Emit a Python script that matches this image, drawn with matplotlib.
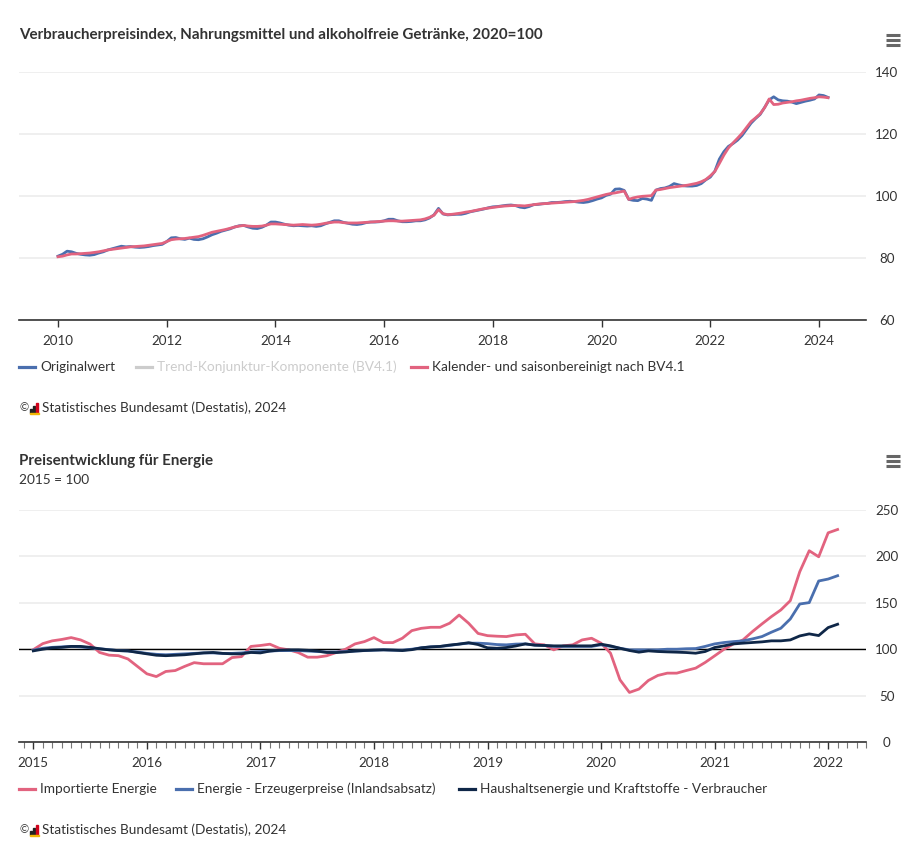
import matplotlib
matplotlib.use("Agg")
import matplotlib.pyplot as plt
from matplotlib import font_manager
from matplotlib.patches import Rectangle
from matplotlib.lines import Line2D

avail = {f.name for f in font_manager.fontManager.ttflist}
FONT = next((f for f in ["Lato", "Roboto", "DejaVu Sans"] if f in avail), "DejaVu Sans")
plt.rcParams['font.family'] = [FONT, 'DejaVu Sans']

# ---------------- Data: chart 1 (monthly, Jan 2010 - Mar 2024) ----------------
vpi_start_year = 2010
vpi_original = [
    80.6, 81.2, 82.2, 82.0, 81.5, 81.2, 81.0, 80.9, 81.1, 81.6, 82.0, 82.6,
    83.0, 83.4, 83.8, 83.6, 83.7, 83.5, 83.4, 83.5, 83.7, 84.0, 84.2, 84.4,
    85.3, 86.5, 86.6, 86.2, 86.0, 86.4, 86.0, 85.9, 86.2, 86.8, 87.5, 88.0,
    88.6, 89.0, 89.4, 90.0, 90.4, 90.5, 90.0, 89.6, 89.5, 89.9, 90.6, 91.6,
    91.6, 91.3, 90.9, 90.6, 90.4, 90.5, 90.4, 90.3, 90.4, 90.2, 90.4, 91.0,
    91.5, 92.0, 92.0, 91.5, 91.2, 90.9, 90.8, 91.0, 91.4, 91.6, 91.6, 91.7,
    92.0, 92.5, 92.5, 92.0, 91.7, 91.7, 91.8, 92.0, 92.0, 92.3, 92.9, 93.9,
    96.0, 94.2, 93.9, 94.0, 94.1, 94.1, 94.4, 94.9, 95.2, 95.5, 95.8, 96.2,
    96.5, 96.6, 96.8, 97.0, 97.1, 96.9, 96.4, 96.2, 96.6, 97.2, 97.3, 97.5,
    97.6, 97.9, 97.9, 98.0, 98.2, 98.3, 98.2, 98.0, 97.9, 98.1, 98.5, 99.0,
    99.4, 100.2, 100.6, 102.2, 102.3, 101.8, 98.9, 98.6, 98.5, 99.2, 99.0, 98.6,
    101.9, 102.4, 102.6, 103.1, 104.0, 103.6, 103.3, 103.2, 103.2, 103.4, 104.0, 105.2,
    106.1, 108.0, 111.9, 114.3, 116.0, 116.9, 118.0, 119.5, 121.5, 123.5, 125.0, 126.3,
    128.6, 131.0, 132.0, 131.0, 130.7, 130.6, 130.3, 129.8, 130.2, 130.6, 130.9, 131.3,
    132.6, 132.4, 131.8,
]
vpi_bereinigt = [
    80.4, 80.6, 81.0, 81.3, 81.3, 81.4, 81.5, 81.6, 81.8, 82.0, 82.3, 82.6,
    82.8, 83.0, 83.2, 83.4, 83.6, 83.7, 83.8, 83.9, 84.1, 84.3, 84.5, 84.7,
    85.3, 85.9, 86.1, 86.2, 86.3, 86.5, 86.7, 86.9, 87.3, 87.8, 88.3, 88.6,
    88.9, 89.2, 89.6, 90.0, 90.3, 90.5, 90.3, 90.2, 90.2, 90.3, 90.6, 91.0,
    91.0, 90.9, 90.8, 90.7, 90.6, 90.7, 90.8, 90.7, 90.6, 90.7, 90.9, 91.2,
    91.4, 91.6, 91.6, 91.4, 91.3, 91.3, 91.3, 91.4, 91.5, 91.6, 91.7, 91.8,
    91.9, 92.0, 92.0, 91.9, 91.9, 92.0, 92.1, 92.2, 92.3, 92.6, 93.1, 93.8,
    95.6, 94.3, 94.0, 94.1, 94.3, 94.5, 94.8, 95.0, 95.3, 95.6, 95.9, 96.1,
    96.3, 96.5, 96.7, 96.8, 96.9, 96.9, 96.9, 96.8, 97.0, 97.2, 97.4, 97.5,
    97.6, 97.7, 97.8, 97.9, 98.0, 98.1, 98.2, 98.4, 98.6, 98.9, 99.3, 99.7,
    100.1, 100.5, 100.8, 101.0, 101.3, 101.6, 98.9, 99.4, 99.7, 99.9, 100.0, 100.1,
    101.9, 102.1, 102.4, 102.7, 102.9, 103.1, 103.3, 103.5, 103.8, 104.1, 104.6, 105.3,
    106.5, 107.9, 110.5, 113.2, 115.5, 117.1, 118.6, 120.2, 122.1, 124.0, 125.2, 126.5,
    128.5, 131.3, 129.5, 129.6, 130.0, 130.2, 130.4, 130.7, 130.9, 131.2, 131.5, 131.7,
    132.0, 131.9, 131.7,
]
vpi_yticks = [60, 80, 100, 120, 140]
vpi_xticks = [2010, 2012, 2014, 2016, 2018, 2020, 2022, 2024]
vpi_legend = ["Originalwert", "Trend-Konjunktur-Komponente (BV4.1)",
              "Kalender- und saisonbereinigt nach BV4.1"]
vpi_title = "Verbraucherpreisindex, Nahrungsmittel und alkoholfreie Getränke, 2020=100"

# ---------------- Data: chart 2 (monthly, Jan 2015 - Feb 2022) ----------------
en_start_year = 2015
en_import = [
    99.5, 106, 109, 110.5, 112.5, 110, 105.5, 96.5, 93.6, 93, 89.5, 81.5,
    73.5, 70.5, 76, 77, 81.5, 85.5, 84.3, 84.3, 84.3, 91, 92, 103,
    104, 105.4, 101, 99.3, 96.4, 91.4, 91.4, 92.9, 96.4, 100, 105.7, 108.2,
    112.5, 107.1, 107.1, 111.8, 120, 122.5, 123.6, 123.6, 128, 136.8, 128, 117,
    114.6, 114, 113.6, 115.4, 116.1, 105.7, 104.7, 99.3, 103.6, 104.7, 110, 111.8,
    106.5, 95.7, 67, 53.4, 57, 66.3, 71.7, 74.2, 74.2, 77, 79.6, 85.7,
    92.8, 100, 105.7, 110, 119, 127.2, 135.1, 142.3, 152.3, 183.5, 206.1, 199.6,
    225.4, 229,
]
en_erzeuger = [
    99, 101, 102, 102.5, 103, 102.5, 101.5, 100.5, 99.5, 98.5, 98, 97,
    95.5, 94.5, 94, 94.5, 95, 95.5, 96, 96, 95.5, 95.5, 96, 97,
    97.5, 98, 98.5, 98.5, 98.5, 98, 97.5, 97, 97, 97.5, 98, 98.5,
    99, 99.3, 99, 99, 100, 101.5, 102.5, 103, 104, 105.5, 106.5, 106.5,
    106, 105, 104.7, 105.5, 105.7, 104.5, 104, 103, 103, 103, 103, 103,
    104.7, 103, 101, 99.3, 99.3, 99.3, 99.3, 100, 100, 100.5, 100.7, 103,
    105.7, 107.2, 108.2, 109, 111.1, 113.6, 118.3, 122.6, 132.6, 148.7, 150.2, 173.5,
    175.6, 179.2,
]
en_verbraucher = [
    98.2, 100, 101.5, 102, 103, 103, 102, 100.5, 99.3, 98.5, 98.2, 96.5,
    95, 93.5, 93, 93.5, 94, 95, 96, 96.5, 95.5, 95, 95, 96.5,
    96, 98, 99, 99.3, 99.3, 98.8, 98, 96.5, 96.4, 97, 98, 98.6,
    99, 99.3, 99, 98.5, 99.5, 101.5, 102.5, 103, 104.5, 105.5, 107, 105,
    101.5, 101, 101.8, 103.5, 105.7, 104.3, 104, 103.6, 103.6, 103.6, 103.6, 103.6,
    105.4, 103.6, 101, 98.6, 96.8, 98.2, 97.5, 97.1, 96.8, 96.4, 95.7, 97.5,
    101.8, 103.6, 105.7, 106.5, 107.2, 107.9, 109, 109, 110, 114.3, 116.5, 114.7,
    123.3, 126.9,
]
en_yticks = [0, 50, 100, 150, 200, 250]
en_xticks = [2015, 2016, 2017, 2018, 2019, 2020, 2021, 2022]
en_legend = ["Importierte Energie", "Energie - Erzeugerpreise (Inlandsabsatz)",
             "Haushaltsenergie und Kraftstoffe - Verbraucher"]
en_title = "Preisentwicklung für Energie"
en_subtitle = "2015 = 100"
credits = "Statistisches Bundesamt (Destatis), 2024"

# ---------------- Styling ----------------
C_BLUE = "#4a6fae"
C_PINK = "#e2637f"
C_NAVY = "#0f2748"
C_GRAY_LEG = "#cccccc"
C_TEXT = "#333333"
C_GRID = "#ececec"
FS_TITLE = 10.9
FS_TEXT = 9.8
FS_TICK = 9.6

W, H = 918, 847
fig = plt.figure(figsize=(W / 100, H / 100), dpi=100)
fig.patch.set_facecolor("white")


def fx(px):
    return px / W


def fy(py):
    return 1 - py / H


def months(start, n):
    return [start + i / 12 for i in range(n)]


def hamburger(cx, cy):
    for dy in (-5, 0, 5):
        fig.add_artist(Line2D([fx(cx - 7), fx(cx + 7)], [fy(cy + dy), fy(cy + dy)],
                              color="#666666", lw=2.2, solid_capstyle="butt"))


def credit_line(py):
    fig.text(fx(19), fy(py), "©", fontsize=8, color=C_TEXT, va="center", ha="left")
    bars = [(30, 4, "#222222"), (33, 7, "#222222"), (36, 10, "#d0021b")]
    for bx, bh, bc in bars:
        fig.add_artist(Rectangle((fx(bx), fy(py + 5)), fx(2), bh / H,
                                 color=bc, transform=fig.transFigure))
    fig.add_artist(Rectangle((fx(29.5), fy(py + 6.2)), fx(9.5), 1.3 / H,
                             color="#f2b705", transform=fig.transFigure))
    fig.text(fx(42), fy(py), credits, fontsize=FS_TEXT, color=C_TEXT, va="center", ha="left")


def legend_item(px, py, color, label, tcolor=C_TEXT):
    fig.add_artist(Line2D([fx(px), fx(px + 16)], [fy(py), fy(py)], color=color, lw=2.3))
    fig.text(fx(px + 21), fy(py), label, fontsize=FS_TEXT, color=tcolor, va="center", ha="left")


def style_axes(ax, yticks):
    ax.set_facecolor("white")
    for s in ("top", "right", "left"):
        ax.spines[s].set_visible(False)
    ax.spines["bottom"].set_color(C_TEXT)
    ax.spines["bottom"].set_linewidth(1.2)
    ax.yaxis.tick_right()
    ax.set_yticks(yticks)
    ax.tick_params(axis="y", length=0, pad=15, labelsize=FS_TICK, labelcolor=C_TEXT)
    for lab in ax.get_yticklabels():
        lab.set_horizontalalignment("center")
    ax.grid(axis="y", color=C_GRID, lw=1.2)
    ax.set_axisbelow(True)
    ax.tick_params(axis="x", which="major", length=5, width=1, color=C_TEXT,
                   labelsize=FS_TICK, labelcolor=C_TEXT, pad=6)


# ================= Chart 1 =================
fig.text(fx(19), fy(35), vpi_title, fontsize=FS_TITLE, fontweight="bold", color=C_TEXT,
         va="center", ha="left")
hamburger(893, 40)

ax1 = fig.add_axes([fx(19), fy(320), fx(866 - 19), (320 - 72) / H])
x1 = months(vpi_start_year, len(vpi_original))
ax1.plot(x1, vpi_original, color=C_BLUE, lw=2, solid_joinstyle="round")
ax1.plot(x1, vpi_bereinigt, color=C_PINK, lw=2, solid_joinstyle="round")
ax1.set_xlim(2010 - 39 / 54.36, 2024 + 47 / 54.36)
ax1.set_ylim(60, 140)
style_axes(ax1, vpi_yticks)
ax1.set_xticks(vpi_xticks)
ax1.set_xticklabels([str(v) for v in vpi_xticks])

legend_item(19, 367, C_BLUE, vpi_legend[0])
legend_item(136, 367, C_GRAY_LEG, vpi_legend[1], tcolor=C_GRAY_LEG)
legend_item(411, 367, C_PINK, vpi_legend[2])
credit_line(408)

# ================= Chart 2 =================
fig.text(fx(19), fy(461), en_title, fontsize=FS_TITLE, fontweight="bold", color=C_TEXT,
         va="center", ha="left")
fig.text(fx(19), fy(480), en_subtitle, fontsize=FS_TEXT, color=C_TEXT, va="center", ha="left")
hamburger(893, 461)

ax2 = fig.add_axes([fx(19), fy(742), fx(866 - 19), (742 - 510) / H])
x2 = months(en_start_year, len(en_import))
ax2.plot(x2, en_import, color=C_PINK, lw=2, solid_joinstyle="round", zorder=3)
ax2.plot(x2, en_erzeuger, color=C_BLUE, lw=2, solid_joinstyle="round", zorder=4)
ax2.plot(x2, en_verbraucher, color=C_NAVY, lw=2, solid_joinstyle="round", zorder=5)
ax2.axhline(100, color="black", lw=1, zorder=2)
ax2.set_xlim(2015 - 14.5 / 115.07, 2022 + 27 / 115.07)
ax2.set_ylim(0, 250)
style_axes(ax2, en_yticks)
ax2.set_xticks(en_xticks)
ax2.set_xticklabels([str(v) for v in en_xticks])
ax2.set_xticks([2014 + 11 / 12 + i / 12 for i in range(0, 90)], minor=True)
ax2.tick_params(axis="x", which="minor", length=4, width=0.8, color="#777777")

legend_item(19, 789, C_PINK, en_legend[0])
legend_item(176, 789, C_BLUE, en_legend[1])
legend_item(459, 789, C_NAVY, en_legend[2])
credit_line(830)

fig.savefig("out.png", dpi=100, facecolor="white")
